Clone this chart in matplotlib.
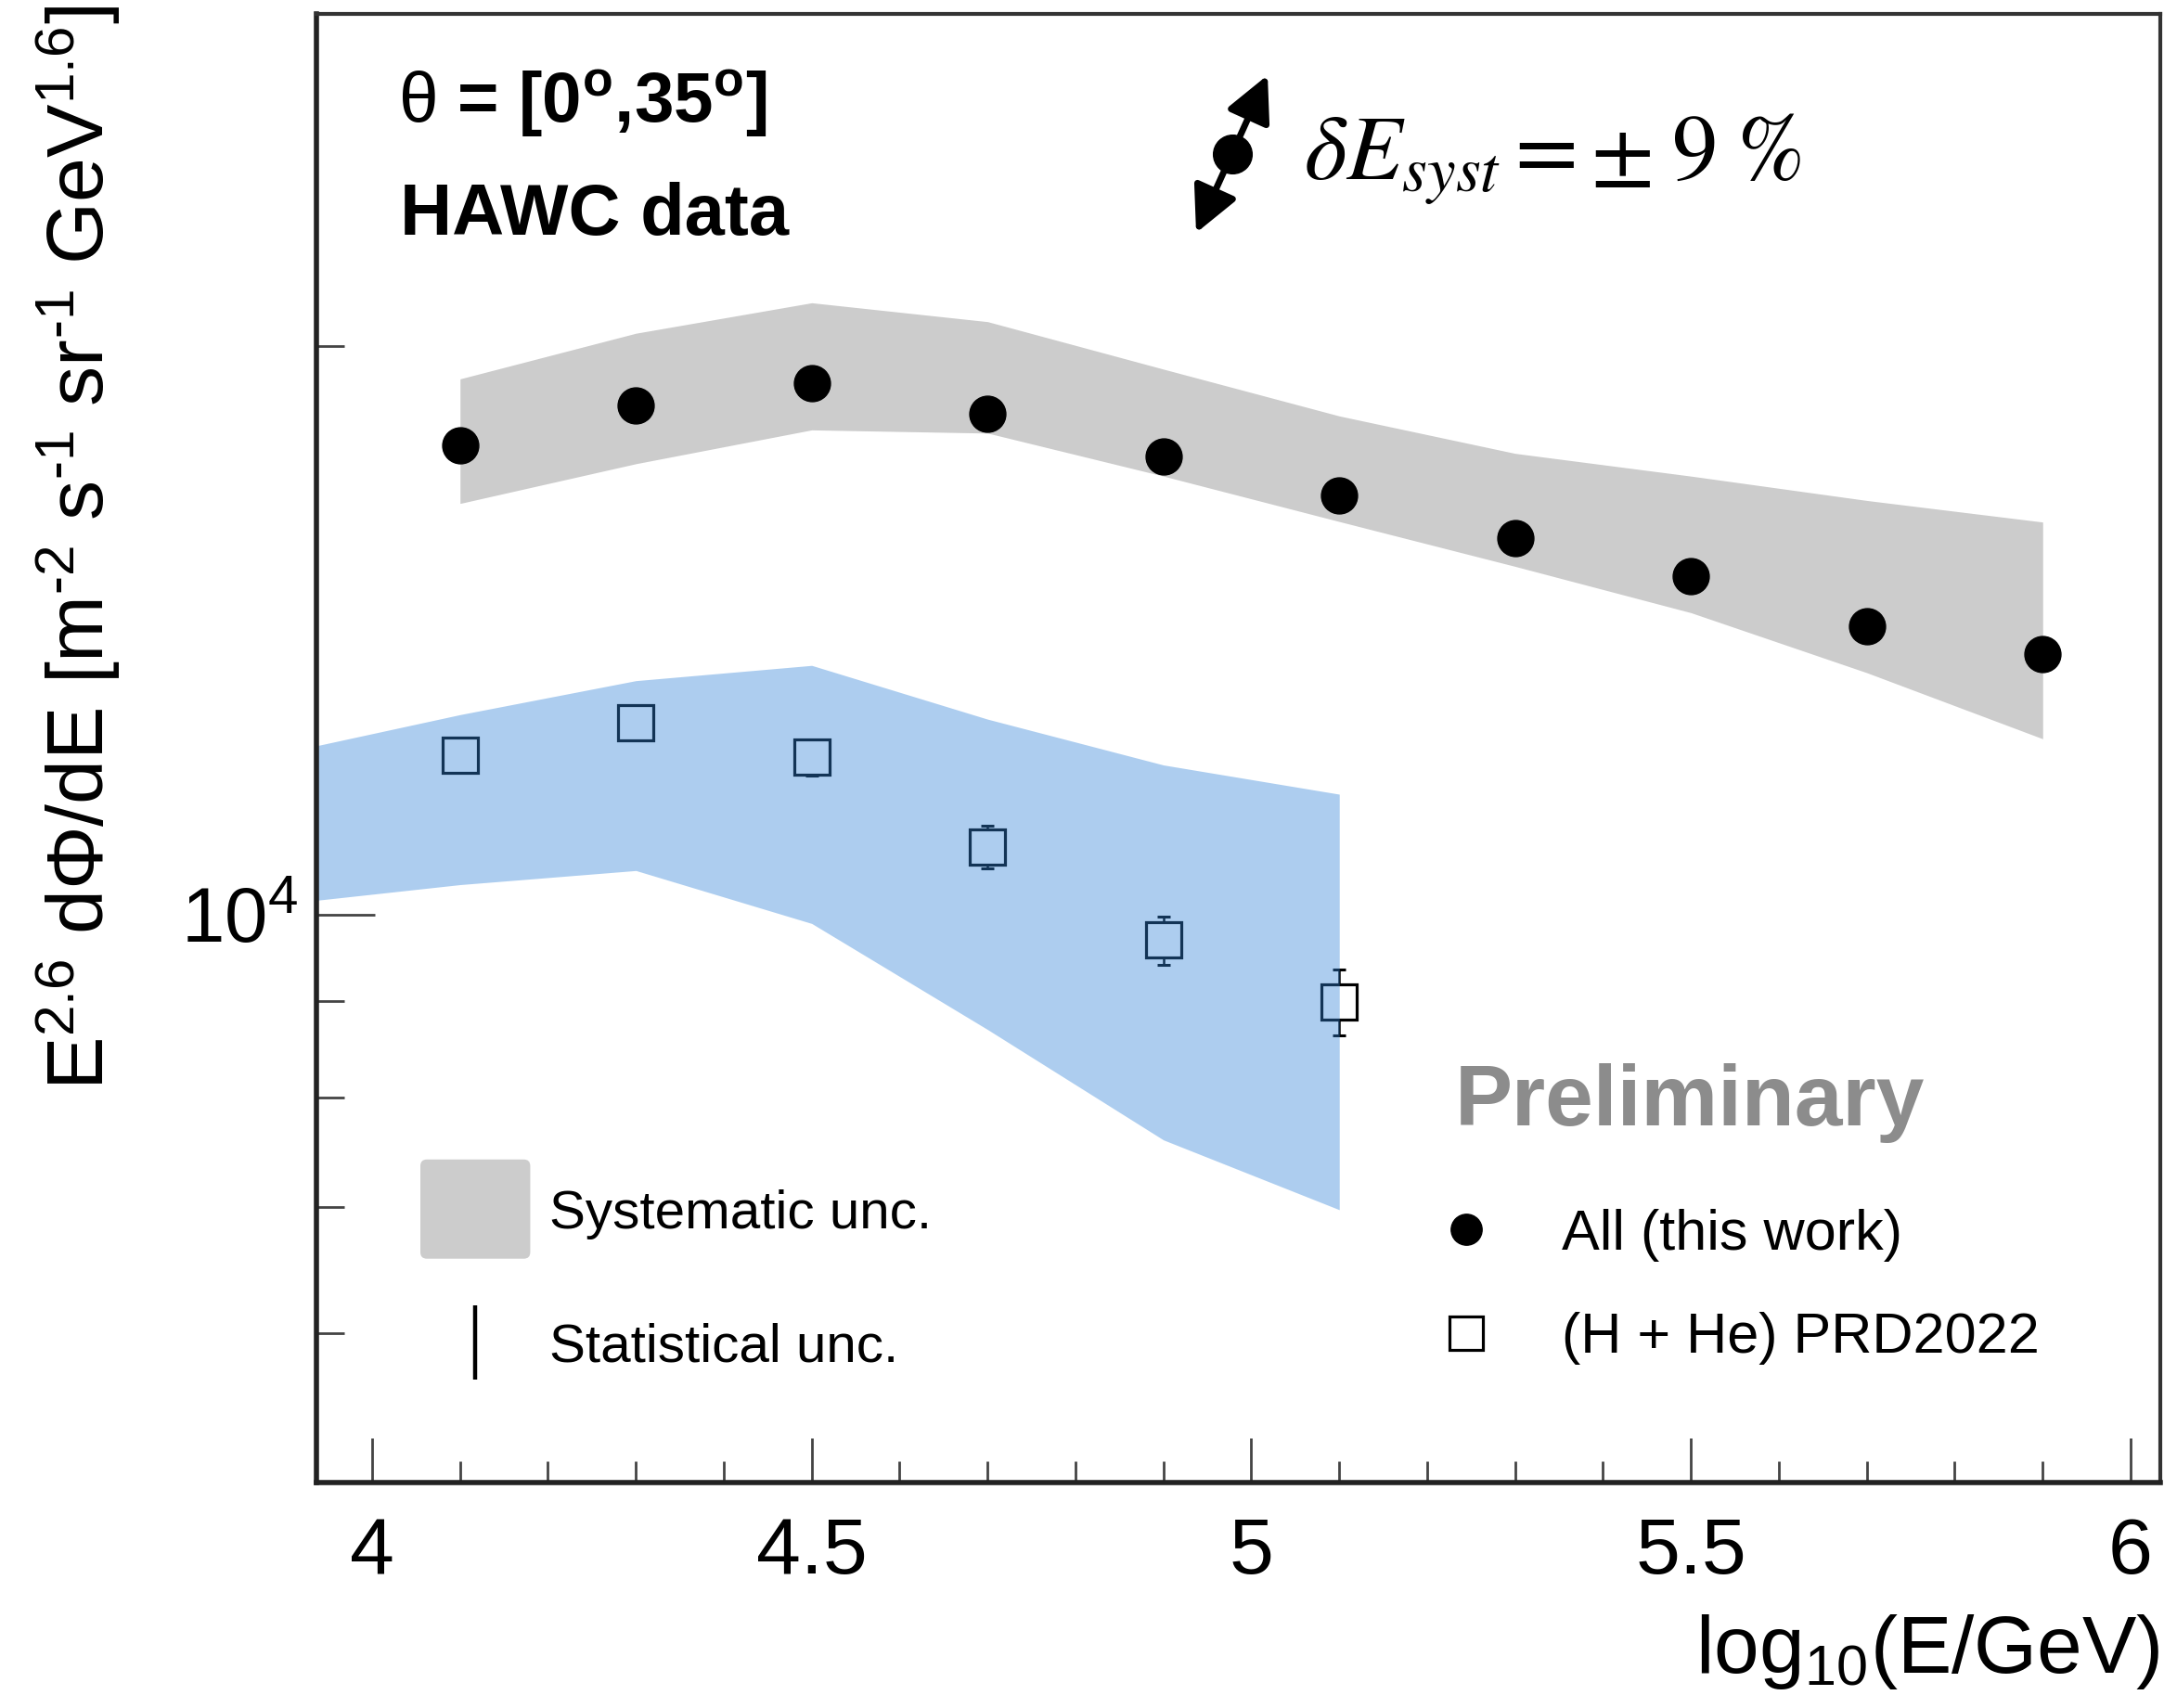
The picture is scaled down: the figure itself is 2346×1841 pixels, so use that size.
import matplotlib
matplotlib.use("Agg")
import matplotlib.pyplot as plt
from matplotlib.lines import Line2D
from matplotlib.patches import Patch, FancyBboxPatch, FancyArrowPatch, ArrowStyle
from matplotlib.legend_handler import HandlerPatch
from matplotlib.ticker import FixedLocator, FixedFormatter, NullFormatter

# =====================================================
# DADOS
# =====================================================

# Todas as partículas (este trabalho)
E_ALL = [4.1, 4.3, 4.5, 4.7, 4.9, 5.1, 5.3, 5.5, 5.7, 5.9]
FLUX_ALL = [17730, 18600, 19130, 18420, 17480, 16670, 15830, 15110, 14210, 13740]
SYS_ALL_LO = [16510, 17330, 18060, 17990, 17070, 16150, 15290, 14450, 13430, 12390]
SYS_ALL_HI = [19220, 20320, 21090, 20610, 19450, 18370, 17550, 17070, 16570, 16140]

# (H + He) PRD2022
E_HHE = [4.1, 4.3, 4.5, 4.7, 4.9, 5.1]
FLUX_HHE = [12150, 12630, 12110, 10860, 9690, 8990]
STAT_HHE = [110, 140, 260, 285, 285, 360]

E_HHE_BAND = [3.9, 4.1, 4.3, 4.5, 4.7, 4.9, 5.1]
SYS_HHE_LO = [10130, 10370, 10550, 9890, 8690, 7595, 6975]
SYS_HHE_HI = [12180, 12760, 13300, 13550, 12690, 12000, 11580]

X_TICKS = [4, 4.5, 5, 5.5, 6]
X_TICK_LABELS = ["4", "4.5", "5", "5.5", "6"]
Y_MINOR = [6000, 7000, 8000, 9000, 20000]

# =====================================================
# CONFIGURAÇÕES
# =====================================================

W, H = 2346, 1841
FONTE = "Liberation Sans"

plt.rcParams["font.family"] = [FONTE, "DejaVu Sans"]
plt.rcParams["mathtext.fontset"] = "custom"
plt.rcParams["mathtext.rm"] = FONTE
plt.rcParams["mathtext.it"] = FONTE + ":italic"
plt.rcParams["mathtext.bf"] = FONTE + ":bold"


def fx(px):
    return px / W


def fy(py):
    return 1 - py / H


def caixa_arredondada(legend, orig_handle, xdescent, ydescent, width, height, fontsize):
    # caixa cinza de ~77 pt centrada na linha do item
    alto = 77
    yc = (height - ydescent) / 2
    return FancyBboxPatch((-xdescent, yc - alto / 2), width, alto,
                          boxstyle="round,pad=0,rounding_size=5")


fig = plt.figure(figsize=(W / 100, H / 100), dpi=100)
ax = fig.add_axes([fx(341), fy(1598), fx(2328) - fx(341), fy(15) - fy(1598)])

# =====================================================
# FAIXAS E PONTOS
# =====================================================

ax.fill_between(E_ALL, SYS_ALL_LO, SYS_ALL_HI, color="#cccccc", lw=0, zorder=1)
ax.plot(E_ALL, FLUX_ALL, "o", color="black", ms=28, zorder=3)

ax.errorbar(E_HHE, FLUX_HHE, yerr=STAT_HHE, fmt="none", ecolor="black",
            elinewidth=1.8, capsize=5, capthick=2.2, zorder=2)
ax.plot(E_HHE, FLUX_HHE, "s", mfc="white", mec="black", mew=2.3, ms=28, zorder=2.1)
ax.fill_between(E_HHE_BAND, SYS_HHE_LO, SYS_HHE_HI, color="#3284d9",
                alpha=0.4, lw=0, zorder=2.5)

# =====================================================
# EIXOS
# =====================================================

ax.set_yscale("log")
ax.set_xlim(3.9367, 6.0338)
ax.set_ylim(5000, 30000)

ax.xaxis.set_major_locator(FixedLocator(X_TICKS))
ax.xaxis.set_major_formatter(FixedFormatter(X_TICK_LABELS))
ax.xaxis.set_minor_locator(FixedLocator([4 + 0.1 * i for i in range(21)]))
ax.yaxis.set_major_locator(FixedLocator([10000]))
ax.yaxis.set_major_formatter(FixedFormatter([r"$10^{4}$"]))
ax.yaxis.set_minor_locator(FixedLocator(Y_MINOR))
ax.yaxis.set_minor_formatter(NullFormatter())

ax.tick_params(axis="x", which="major", direction="in", length=34.5, width=2,
               color="#444444", labelsize=62, pad=26, top=False)
ax.tick_params(axis="x", which="minor", direction="in", length=16.6, width=2,
               color="#444444", top=False)
ax.tick_params(axis="y", which="major", direction="in", length=45, width=2,
               color="#444444", labelsize=60, pad=14, right=False)
ax.tick_params(axis="y", which="minor", direction="in", length=21.6, width=2,
               color="#444444", right=False)

for lado in ["left", "bottom"]:
    ax.spines[lado].set_linewidth(4)
    ax.spines[lado].set_color("#222222")
for lado in ["top", "right"]:
    ax.spines[lado].set_linewidth(3)
    ax.spines[lado].set_color("#333333")

fig.text(fx(84), fy(6),
         r"E$^{2.6}$ d$\Phi$/dE [m$^{\text{-}2}$ s$^{\text{-}1}$ sr$^{\text{-}1}$ GeV$^{1.6}$]",
         rotation=90, ha="center", va="top", fontsize=62)
fig.text(fx(2328), fy(1803), r"log$_{10}$(E/GeV)", ha="right", va="baseline",
         fontsize=63)

# =====================================================
# TEXTOS
# =====================================================

fig.text(fx(429), fy(112), r"$\mathrm{\theta}$ = [0$^{\mathbf{o}}$,35$^{\mathbf{o}}$]",
         fontsize=55, fontweight="bold", va="center", ha="left")
fig.text(fx(431), fy(232), "HAWC data", fontsize=56, fontweight="bold",
         va="center", ha="left")
fig.text(fx(1568), fy(1189), "Preliminary", fontsize=67, fontweight="bold",
         color="#8c8c8c", va="center", ha="left")

fig.text(fx(1405), fy(172), r"$\delta E_{syst} = \pm\;9\;\%$", fontsize=71,
         math_fontfamily="stix", va="center", ha="left")

seta = FancyArrowPatch((fx(1289), fy(251)), (fx(1366), fy(81)),
                       transform=fig.transFigure,
                       arrowstyle=ArrowStyle("<|-|>", head_length=1.0, head_width=0.5),
                       mutation_scale=30, lw=5, color="black", shrinkA=0, shrinkB=0)
fig.patches.append(seta)
fig.lines.append(Line2D([fx(1328)], [fy(166)], marker="o", ms=30, color="black",
                        transform=fig.transFigure))

# =====================================================
# LEGENDAS
# =====================================================

leg1 = ax.legend(
    handles=[Patch(facecolor="#cccccc", edgecolor="none"),
             Line2D([], [], ls="none", marker="|", ms=57, mew=3.2, color="black")],
    labels=["Systematic unc.", "Statistical unc."],
    handler_map={Patch: HandlerPatch(patch_func=caixa_arredondada)},
    loc="center left", bbox_to_anchor=(fx(453), fy(1381)), bbox_transform=fig.transFigure,
    frameon=False, fontsize=42, handlelength=2.03, handleheight=0.75,
    handletextpad=0.36, labelspacing=1.54, borderpad=0, borderaxespad=0, numpoints=1,
)
ax.add_artist(leg1)

ax.legend(
    handles=[Line2D([], [], ls="none", marker="o", ms=24, color="black"),
             Line2D([], [], ls="none", marker="s", ms=26, mfc="white", mec="black", mew=2.3)],
    labels=["All (this work)", "(H + He) PRD2022"],
    loc="center left", bbox_to_anchor=(fx(1549), fy(1387)), bbox_transform=fig.transFigure,
    frameon=False, fontsize=44, handlelength=1.0, handletextpad=1.19,
    labelspacing=0.89, borderpad=0, borderaxespad=0, numpoints=1,
)

fig.savefig("out.png", dpi=100)
